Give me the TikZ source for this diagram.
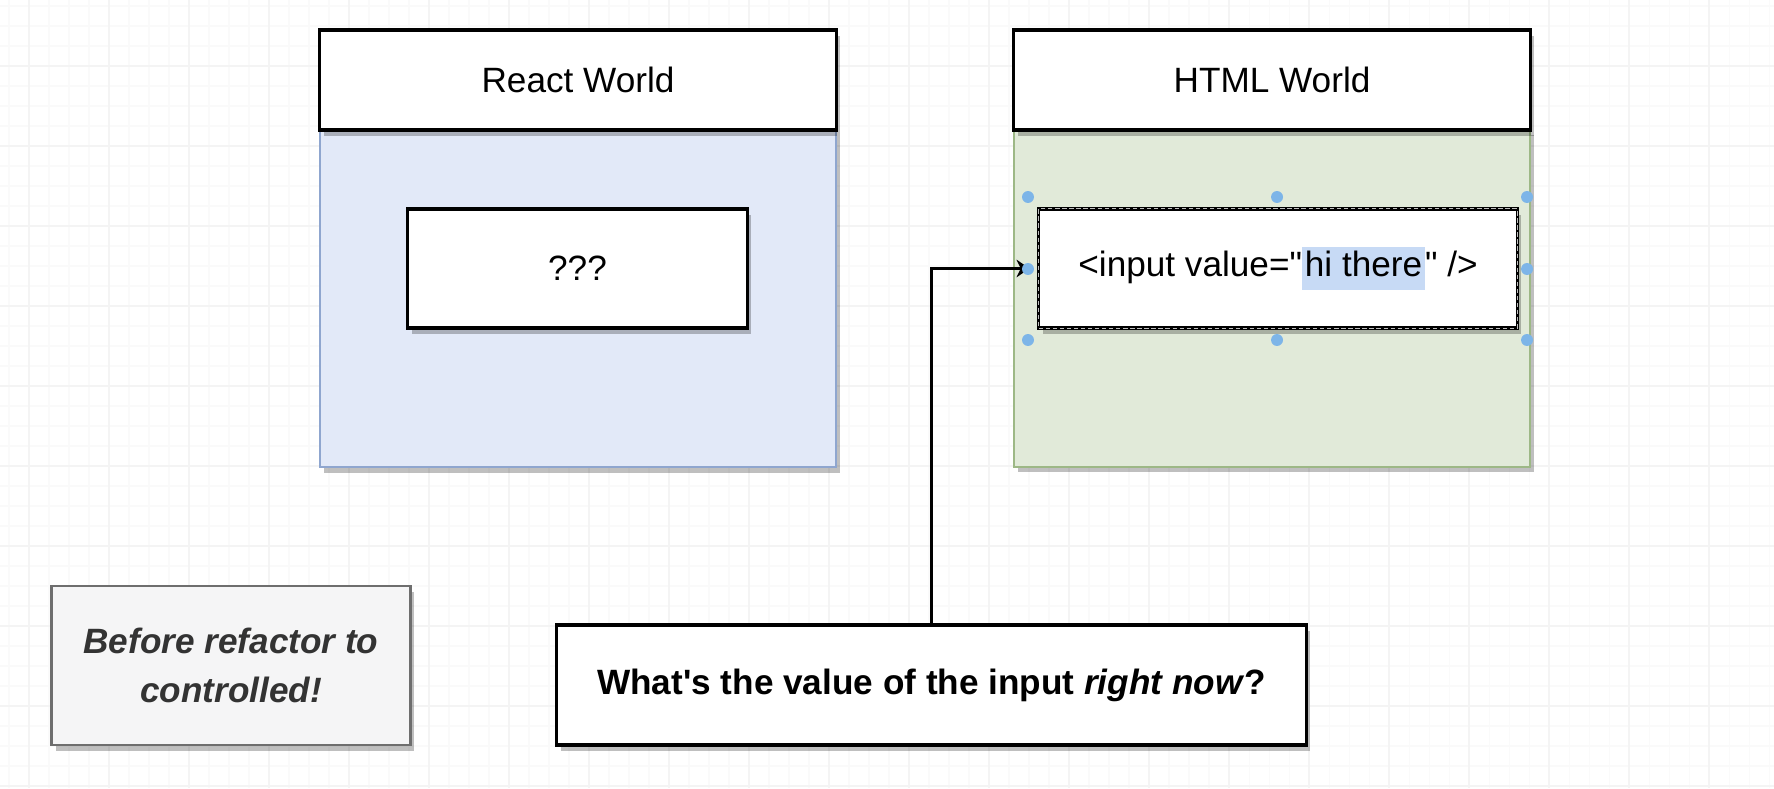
\documentclass[tikz,border=0pt]{standalone}
\usepackage{fontspec}
\setmainfont{Liberation Sans}[Ligatures=TeXOff]
\usetikzlibrary{positioning, arrows.meta, shadows}
\definecolor{rblue}{HTML}{E2E9F8}
\definecolor{rblueline}{HTML}{8FA6CF}
\definecolor{hgreen}{HTML}{E1EAD9}
\definecolor{hgreenline}{HTML}{9DB886}
\definecolor{notefill}{HTML}{F5F5F6}
\definecolor{noteline}{HTML}{6E6E6E}
\definecolor{notetext}{HTML}{333333}
\definecolor{selblue}{HTML}{7DB5E8}
\definecolor{hilite}{HTML}{C7DAF5}
\newcommand{\selhl}[1]{{\setlength{\fboxsep}{0pt}\colorbox{hilite}{\kern0.8pt#1\kern0.8pt\strut}}}

\begin{document}
\begin{tikzpicture}[x=0.01cm, y=-0.01cm, font=\fontsize{10pt}{12pt}\selectfont,
    shade/.style={drop shadow={shadow xshift=1.2pt, shadow yshift=-1.6pt, opacity=0.25, fill=black}},
    titlebox/.style={draw=black, line width=0.9pt, fill=white, inner sep=0pt, shade,
        minimum width=5.16cm, minimum height=1cm},
    worldbox/.style={line width=0.6pt, inner sep=0pt, shade,
        minimum width=5.16cm, minimum height=3.37cm},
    elembox/.style={draw=black, line width=0.9pt, fill=white, inner sep=0pt, shade,
        minimum width=3.39cm, minimum height=1.19cm},
    handle/.style={fill=selblue},
    conn/.style={draw=black, line width=0.7pt, -{Stealth[length=3.7pt, width=5pt]}, shorten >=2.2pt}]
    % background
    \useasboundingbox (0,0) rectangle (1774,788);
    \fill[white] (0,0) rectangle (1774,788);
    \foreach \x in {9,29,...,1769}
        \draw[black!2, line width=0.3pt] (\x,0) -- (\x,788);
    \foreach \y in {6,26,...,786}
        \draw[black!2, line width=0.3pt] (0,\y) -- (1774,\y);
    \foreach \x in {29,109,...,1769}
        \draw[black!4.5, line width=0.4pt] (\x,0) -- (\x,788);
    \foreach \y in {66,146,...,786}
        \draw[black!4.5, line width=0.4pt] (0,\y) -- (1774,\y);

    % react world
    \node[worldbox, draw=rblueline, fill=rblue] (rbody) at (578,298.5) {};
    \node[titlebox] (rhead) at (578,80) {React World};
    \node[elembox] (rinput) at (577.5,268.5) {???};

    % html world
    \node[worldbox, draw=hgreenline, fill=hgreen] (hbody) at (1272,298) {};
    \node[titlebox] (hhead) at (1272,80) {HTML World};
    \node[elembox, minimum width=4.78cm,
        postaction={draw=white!75!black, line width=0.3pt, dash pattern=on 1.2pt off 0.8pt}]
        (hinput) at (1278,268.5) {<input value="\selhl{hi there}" />};

    % notes
    \node[draw=noteline, line width=0.8pt, fill=notefill, inner sep=0pt, shade,
        minimum width=3.58cm, minimum height=1.59cm, align=center,
        text=notetext, font=\fontsize{10pt}{14pt}\selectfont\bfseries\itshape]
        (note) at (231,665.5) {Before refactor to\\controlled!};
    \node[draw=black, line width=0.9pt, fill=white, inner sep=0pt, shade,
        minimum width=7.49cm, minimum height=1.2cm, font=\fontsize{10pt}{12pt}\selectfont\bfseries]
        (question) at (931.5,685) {What's the value of the input \textit{right now}?};

    \draw[conn] (question.north) |- (hinput.west);

    % selection handles
    \foreach \x/\y in {1028/197, 1277/197, 1527/197, 1028/269, 1527/269, 1028/340, 1277/340, 1527/340}
        \fill[handle] (\x,\y) circle[radius=1.7pt];
\end{tikzpicture}
\end{document}
